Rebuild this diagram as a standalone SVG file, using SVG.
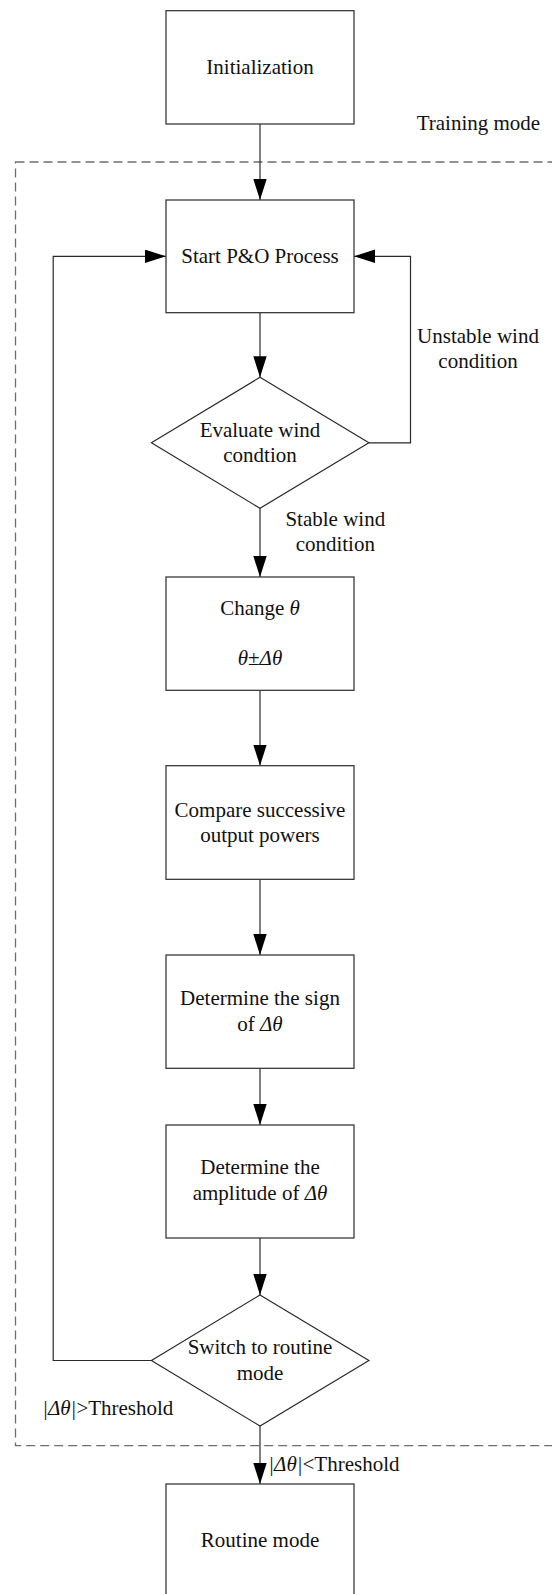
<svg xmlns="http://www.w3.org/2000/svg" width="552" height="1594" viewBox="0 0 552 1594">
<style>
.box{fill:#fff;stroke:#2a2a2a;stroke-width:1.2}
.con{fill:none;stroke:#2a2a2a;stroke-width:1.2}
.frame{fill:none;stroke:#6e6e6e;stroke-width:1.3;stroke-dasharray:9 5}
text{font-family:"Liberation Serif","Times New Roman",serif;font-size:21px;fill:#111}
.c{text-anchor:middle}
.i{font-style:italic}
</style>
<defs>
<marker id="ah" markerUnits="userSpaceOnUse" markerWidth="21" markerHeight="14" refX="21" refY="6.7" orient="auto">
<path d="M0,0 L21,6.7 L0,13.4 Z" fill="#000"/>
</marker>
</defs>
<rect width="552" height="1594" fill="#fff"/>
<g id="training-frame">
<rect class="frame" x="15.5" y="162" width="600" height="1283.7"/>
<text x="416.7" y="130">Training mode</text>
</g>
<g id="connectors">
<path class="con" d="M260,124 V200" marker-end="url(#ah)"/>
<path class="con" d="M260,312.7 V377.3" marker-end="url(#ah)"/>
<path class="con" d="M368.9,442.8 H410.5 V256.3 H354" marker-end="url(#ah)"/>
<path class="con" d="M260,508.3 V577" marker-end="url(#ah)"/>
<path class="con" d="M260,690.3 V765.7" marker-end="url(#ah)"/>
<path class="con" d="M260,879.3 V955" marker-end="url(#ah)"/>
<path class="con" d="M260,1068.3 V1125" marker-end="url(#ah)"/>
<path class="con" d="M260,1238 V1295" marker-end="url(#ah)"/>
<path class="con" d="M151.4,1360.5 H53.2 V256.3 H166" marker-end="url(#ah)"/>
<path class="con" d="M260,1426 V1484" marker-end="url(#ah)"/>
<text x="478" y="342.7" class="c">Unstable wind</text>
<text x="478" y="368.3" class="c">condition</text>
<text x="335.3" y="526" class="c">Stable wind</text>
<text x="335.3" y="550.7" class="c">condition</text>
<text x="42.2" y="1415"><tspan class="i">|Δθ|</tspan>&gt;Threshold</text>
<text x="268.3" y="1470.7"><tspan class="i">|Δθ|</tspan>&lt;Threshold</text>
</g>
<g id="init">
<rect class="box" x="166" y="10.7" width="188" height="113.3"/>
<text x="260" y="74" class="c">Initialization</text>
</g>
<g id="start-po">
<rect class="box" x="166" y="200" width="188" height="112.7"/>
<text x="260" y="263.3" class="c">Start P&amp;O Process</text>
</g>
<g id="evaluate-wind">
<polygon class="box" points="260,377.3 368.9,442.8 260,508.3 151.4,442.8"/>
<text x="260" y="436.7" class="c">Evaluate wind</text>
<text x="260" y="461.7" class="c">condtion</text>
</g>
<g id="change-theta">
<rect class="box" x="166" y="577" width="188" height="113.3"/>
<text x="260" y="614.5" class="c">Change <tspan class="i">θ</tspan></text>
<text x="260" y="665" class="c"><tspan class="i">θ</tspan>±<tspan class="i">Δθ</tspan></text>
</g>
<g id="compare-powers">
<rect class="box" x="166" y="765.7" width="188" height="113.6"/>
<text x="260" y="817" class="c">Compare successive</text>
<text x="260" y="841.5" class="c">output powers</text>
</g>
<g id="determine-sign">
<rect class="box" x="166" y="955" width="188" height="113.3"/>
<text x="260" y="1005" class="c">Determine the sign</text>
<text x="260" y="1030.5" class="c">of <tspan class="i">Δθ</tspan></text>
</g>
<g id="determine-amplitude">
<rect class="box" x="166" y="1125" width="188" height="113"/>
<text x="260" y="1174" class="c">Determine the</text>
<text x="260" y="1199.5" class="c">amplitude of <tspan class="i">Δθ</tspan></text>
</g>
<g id="switch-routine">
<polygon class="box" points="260,1295 368.9,1360.5 260,1426 151.4,1360.5"/>
<text x="260" y="1354" class="c">Switch to routine</text>
<text x="260" y="1379.5" class="c">mode</text>
</g>
<g id="routine-mode">
<rect class="box" x="166" y="1484" width="188" height="113.3"/>
<text x="260" y="1547" class="c">Routine mode</text>
</g>
</svg>
